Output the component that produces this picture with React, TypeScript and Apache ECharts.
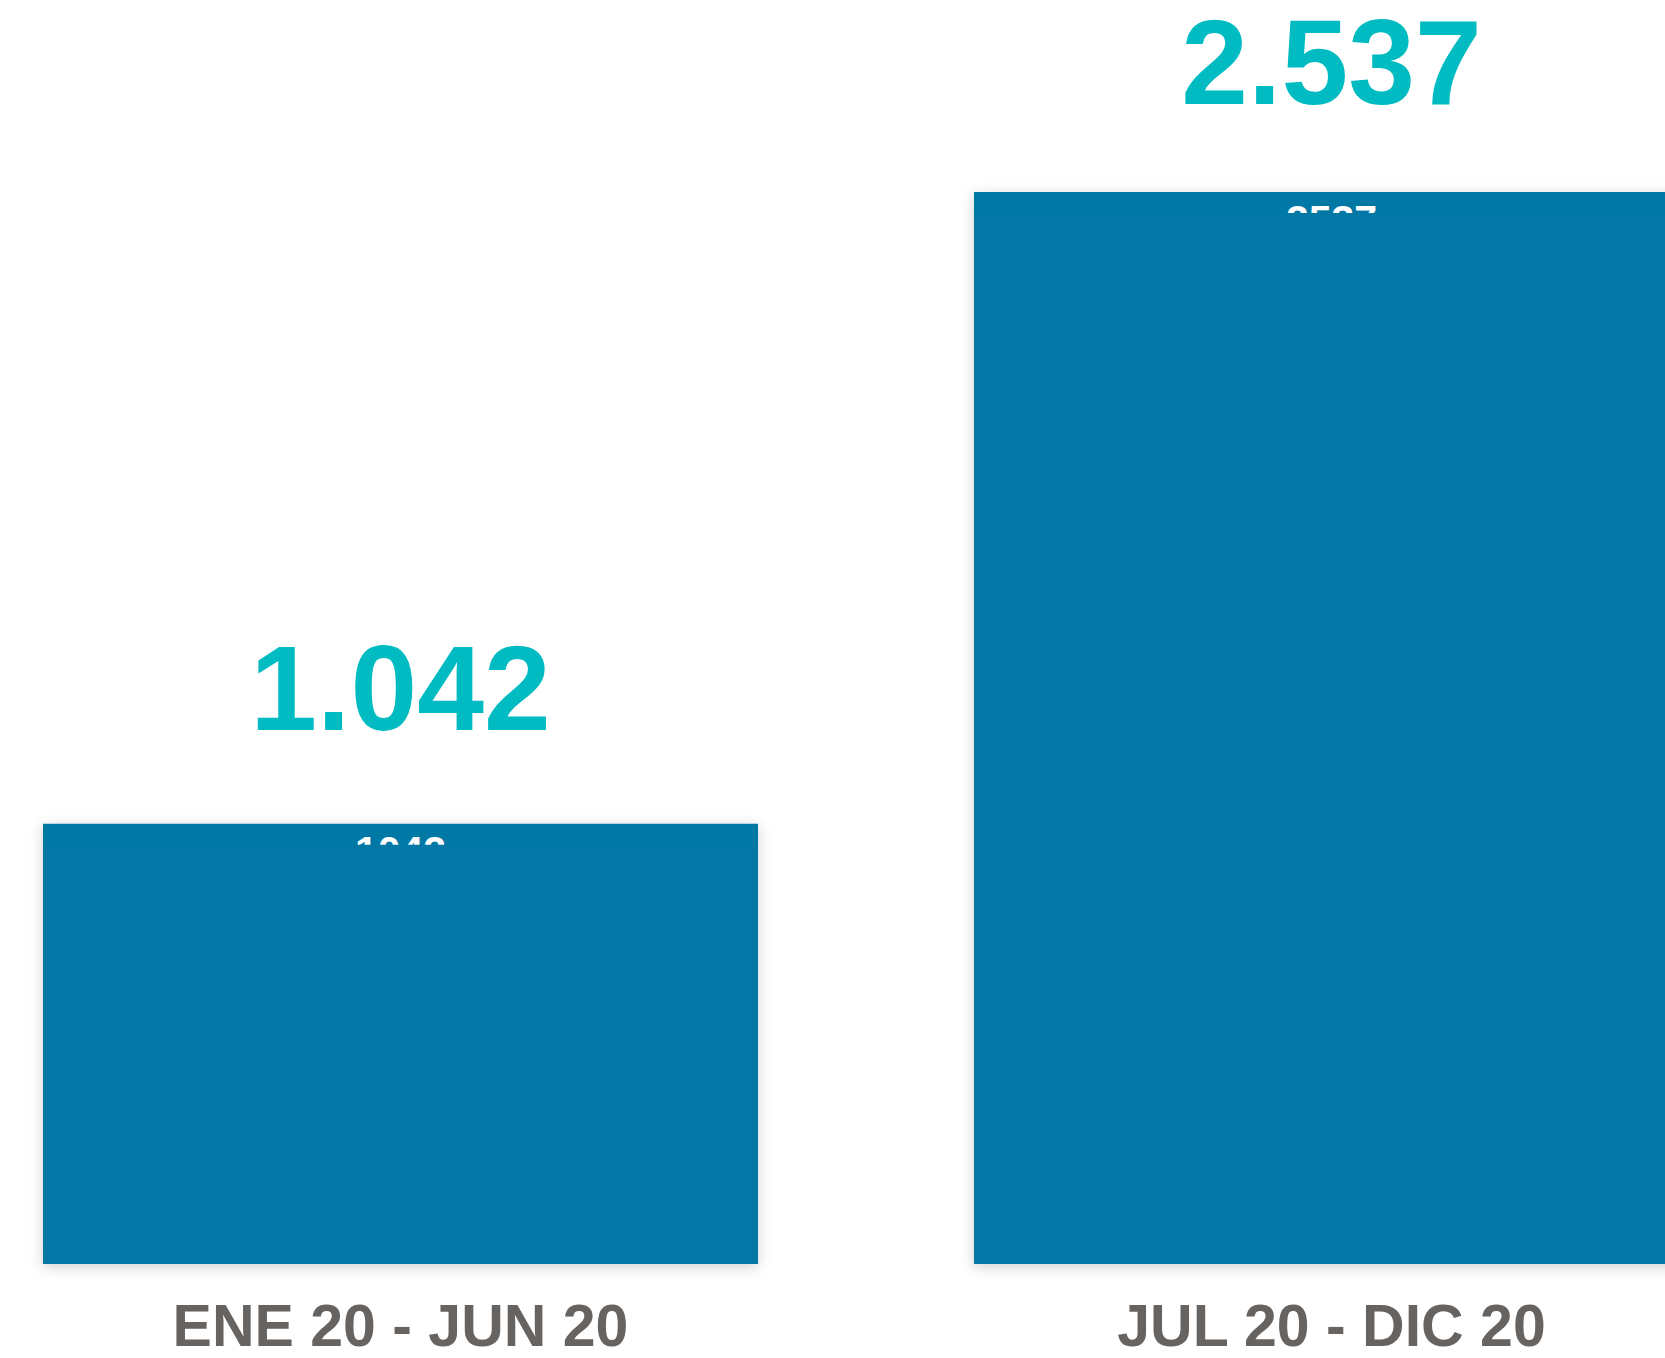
import React, { useEffect, useRef } from "react";
import * as echarts from "echarts";

const categories = ["ENE 20 - JUN 20", "JUL 20 - DIC 20"];
const values = [1042, 2537];

const BAR_COLOR = "#0378A6";
const TEAL = "#00BCC2";
const GRAY = "#666361";
const FONT = "'Liberation Sans', Arial, sans-serif";
const BAR_RATIO = 0.768;
const TOP_LABEL_DISTANCE = [86, 80];

function fmtThousands(v: number): string {
  return String(v).replace(/\B(?=(\d{3})+(?!\d))/g, ".");
}

export default function App() {
  const ref = useRef<HTMLDivElement>(null);
  useEffect(() => {
    if (!ref.current) return;
    const chart = echarts.init(ref.current, undefined, { renderer: "svg" });
    chart.setOption({
      animation: false,
      grid: { left: 0, right: 0, top: 192, bottom: 94, containLabel: false },
      xAxis: {
        type: "category",
        data: categories,
        axisLine: { show: false },
        axisTick: { show: false },
        axisLabel: {
          color: GRAY,
          fontSize: 59,
          fontWeight: "bold",
          fontFamily: FONT,
          margin: 32,
        },
      },
      yAxis: {
        type: "value",
        min: 0,
        max: 2537,
        show: false,
        splitLine: { show: false },
      },
      series: [
        {
          type: "bar",
          data: values.map((v, i) => ({ value: v, label: { distance: TOP_LABEL_DISTANCE[i] } })),
          barWidth: (BAR_RATIO * 100).toFixed(1) + "%",
          silent: true,
          z: 2,
          itemStyle: {
            color: BAR_COLOR,
            shadowBlur: 14,
            shadowColor: "rgba(0,0,0,0.18)",
            shadowOffsetY: 3,
          },
          label: {
            show: true,
            position: "top",
            lineHeight: 100,
            color: TEAL,
            fontSize: 120,
            fontWeight: "bold",
            fontFamily: FONT,
            formatter: (p: any) => fmtThousands(p.value),
          },
        },
        {
          type: "bar",
          data: values,
          barWidth: (BAR_RATIO * 100).toFixed(1) + "%",
          barGap: "-100%",
          silent: true,
          z: 2,
          itemStyle: { color: "rgba(0,0,0,0)" },
          label: {
            show: true,
            position: "insideTop",
            distance: 7,
            color: "#ffffff",
            fontSize: 41,
            fontWeight: "bold",
            fontFamily: FONT,
            formatter: (p: any) => String(p.value),
          },
        },
        {
          type: "custom",
          data: values.map((v, i) => [i, v]),
          silent: true,
          z: 3,
          renderItem: (params: any, api: any) => {
            const idx = api.value(0);
            const val = api.value(1);
            const top = api.coord([idx, val]);
            const bottom = api.coord([idx, 0]);
            const w = api.size([1, 0])[0] * BAR_RATIO;
            const y = top[1] + 21;
            return {
              type: "rect",
              shape: { x: top[0] - w / 2, y, width: w, height: bottom[1] - y },
              style: { fill: BAR_COLOR },
            };
          },
        },
      ],
    });
    return () => chart.dispose();
  }, []);

  return (
    <div
      style={{
        position: "absolute",
        left: 0,
        top: 0,
        width: 1665,
        height: 1358,
        overflow: "hidden",
        background: "#ffffff",
      }}
    >
      <div
        ref={ref}
        style={{ position: "absolute", left: -65, top: 0, width: 1862, height: 1358 }}
      />
    </div>
  );
}
